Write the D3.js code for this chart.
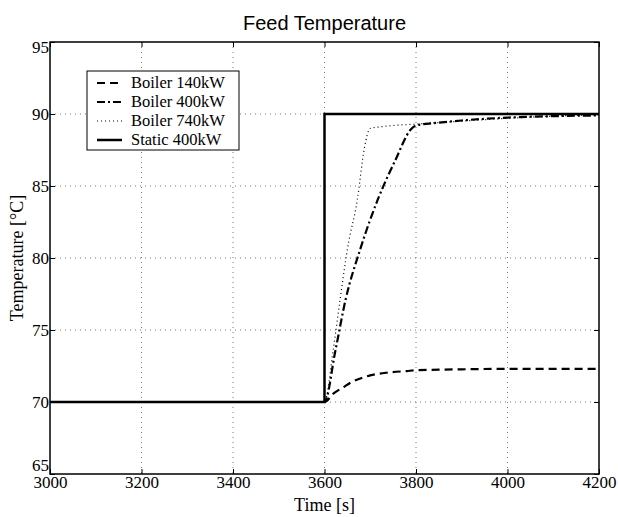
<!DOCTYPE html>
<html>
<head>
<meta charset="utf-8">
<script src="https://cdn.jsdelivr.net/npm/d3@7"></script>
<style>
  body { margin: 0; background: #fff; }
  svg { display: block; }
</style>
</head>
<body>
<div id="chart"></div>
<script>
// data
const xTicks = [3000, 3200, 3400, 3600, 3800, 4000, 4200];
const yTicks = [65, 70, 75, 80, 85, 90, 95];

const boiler140 = [[3000, 70], [3600, 70], [3620, 70.6], [3640, 71.0], [3660, 71.4], [3680, 71.65],
  [3700, 71.85], [3740, 72.05], [3780, 72.15], [3800, 72.2], [3900, 72.27], [4000, 72.3], [4200, 72.3]];
const boiler400 = [[3000, 70], [3600, 70], [3624, 73.6], [3646, 77.1], [3678, 80.6], [3717, 84.1],
  [3755, 86.8], [3788, 88.9], [3800, 89.2], [3850, 89.4], [3900, 89.55], [4000, 89.75], [4100, 89.85], [4200, 89.9]];
const boiler740 = [[3000, 70], [3600, 70], [3619, 73.6], [3634, 77.1], [3650, 80.6], [3672, 84.1],
  [3687, 87.6], [3700, 89.0], [3720, 89.1], [3800, 89.3], [3900, 89.5], [4000, 89.7], [4100, 89.85], [4200, 89.95]];
const static400 = [[3000, 70], [3600, 70], [3600, 90], [4200, 90]];

const seriesNames = ["Boiler 140kW", "Boiler 400kW", "Boiler 740kW", "Static 400kW"];
const seriesData = [boiler140, boiler400, boiler740, static400];
const seriesDash = ["8,5", "8,3,2,3", "1,3", null];
const seriesWidth = [2.2, 2.2, 1.2, 2.5];

const serif = "'Liberation Serif', 'Times New Roman', serif";
const sans = "'Liberation Sans', Arial, sans-serif";

const width = 618;
const height = 517;
const margin = {top: 42, right: 19, bottom: 43, left: 50};

const xScale = d3.scaleLinear()
    .domain([3000, 4200])
    .range([margin.left, width - margin.right]);

const yScale = d3.scaleLinear()
    .domain([65, 95])
    .range([height - margin.bottom, margin.top]);

const svg = d3.select("#chart").append("svg")
    .attr("width", width)
    .attr("height", height);

// grid
svg.append("g")
  .selectAll("line")
  .data(xTicks.slice(1, -1))
  .join("line")
    .attr("x1", d => xScale(d)).attr("x2", d => xScale(d))
    .attr("y1", margin.top).attr("y2", height - margin.bottom)
    .attr("stroke", "#555").attr("stroke-width", 0.8)
    .attr("stroke-dasharray", "1,4");

svg.append("g")
  .selectAll("line")
  .data(yTicks.slice(1, -1))
  .join("line")
    .attr("y1", d => yScale(d)).attr("y2", d => yScale(d))
    .attr("x1", margin.left).attr("x2", width - margin.right)
    .attr("stroke", "#555").attr("stroke-width", 0.8)
    .attr("stroke-dasharray", "1,4");

// axes (inward ticks, box)
const tickFont = g => g.selectAll("text")
    .style("font-family", serif)
    .style("font-size", "17px").attr("fill", "#000");

svg.append("g")
    .attr("transform", `translate(0,${height - margin.bottom})`)
    .call(d3.axisBottom(xScale).tickValues(xTicks).tickSize(-5).tickPadding(2).tickFormat(d3.format("d")))
    .call(g => g.select(".domain").remove())
    .call(tickFont);

svg.append("g")
    .attr("transform", `translate(${margin.left},0)`)
    .call(d3.axisLeft(yScale).tickValues(yTicks).tickSize(-5).tickPadding(1))
    .call(g => g.select(".domain").remove())
    .call(tickFont)
    .call(g => g.selectAll(".tick").filter(d => d === 65).select("text").attr("dy", "-0.2em"))
    .call(g => g.selectAll(".tick").filter(d => d === 95).select("text").attr("dy", "0.6em"));

svg.append("g")
    .attr("transform", `translate(0,${margin.top})`)
    .call(d3.axisTop(xScale).tickValues(xTicks).tickSize(-5).tickFormat(""))
    .call(g => g.select(".domain").remove());

svg.append("g")
    .attr("transform", `translate(${width - margin.right},0)`)
    .call(d3.axisRight(yScale).tickValues(yTicks).tickSize(-5).tickFormat(""))
    .call(g => g.select(".domain").remove());

svg.selectAll(".tick line").attr("stroke", "#000");

// lines
const line = d3.line()
    .x(d => xScale(d[0]))
    .y(d => yScale(d[1]))
    .curve(d3.curveMonotoneX);

const lineStep = d3.line()
    .x(d => xScale(d[0]))
    .y(d => yScale(d[1]));

seriesData.forEach((s, i) => {
  svg.append("path")
    .attr("d", i === 3 ? lineStep(s) : line(s))
    .attr("fill", "none")
    .attr("stroke", "#000")
    .attr("stroke-width", seriesWidth[i])
    .attr("stroke-dasharray", seriesDash[i]);
});

svg.append("rect")
    .attr("x", margin.left).attr("y", margin.top)
    .attr("width", width - margin.left - margin.right)
    .attr("height", height - margin.top - margin.bottom)
    .attr("fill", "none").attr("stroke", "#000").attr("stroke-width", 1.5);

// legend
const legend = svg.append("g").attr("transform", "translate(87,71)");
legend.append("rect")
    .attr("width", 152).attr("height", 79)
    .attr("fill", "#fff").attr("stroke", "#000").attr("stroke-width", 1);

seriesNames.forEach((name, i) => {
  const y = 12 + i * 19;
  legend.append("line")
    .attr("x1", 10).attr("x2", 35).attr("y1", y).attr("y2", y)
    .attr("stroke", "#000")
    .attr("stroke-width", seriesWidth[i])
    .attr("stroke-dasharray", seriesDash[i]);
  legend.append("text")
    .attr("x", 44).attr("y", y + 5)
    .style("font-family", serif)
    .style("font-size", "16.5px")
    .text(name);
});

// labels
svg.append("text")
    .attr("x", xScale(3600)).attr("y", 30)
    .attr("text-anchor", "middle")
    .style("font-family", sans)
    .style("font-size", "20px")
    .text("Feed Temperature");

svg.append("text")
    .attr("x", xScale(3600)).attr("y", 511)
    .attr("text-anchor", "middle")
    .style("font-family", serif)
    .style("font-size", "18px")
    .text("Time [s]");

svg.append("text")
    .attr("transform", `translate(23,${yScale(80)}) rotate(-90)`)
    .attr("text-anchor", "middle")
    .style("font-family", serif)
    .style("font-size", "18px")
    .text("Temperature [°C]");
</script>
</body>
</html>
